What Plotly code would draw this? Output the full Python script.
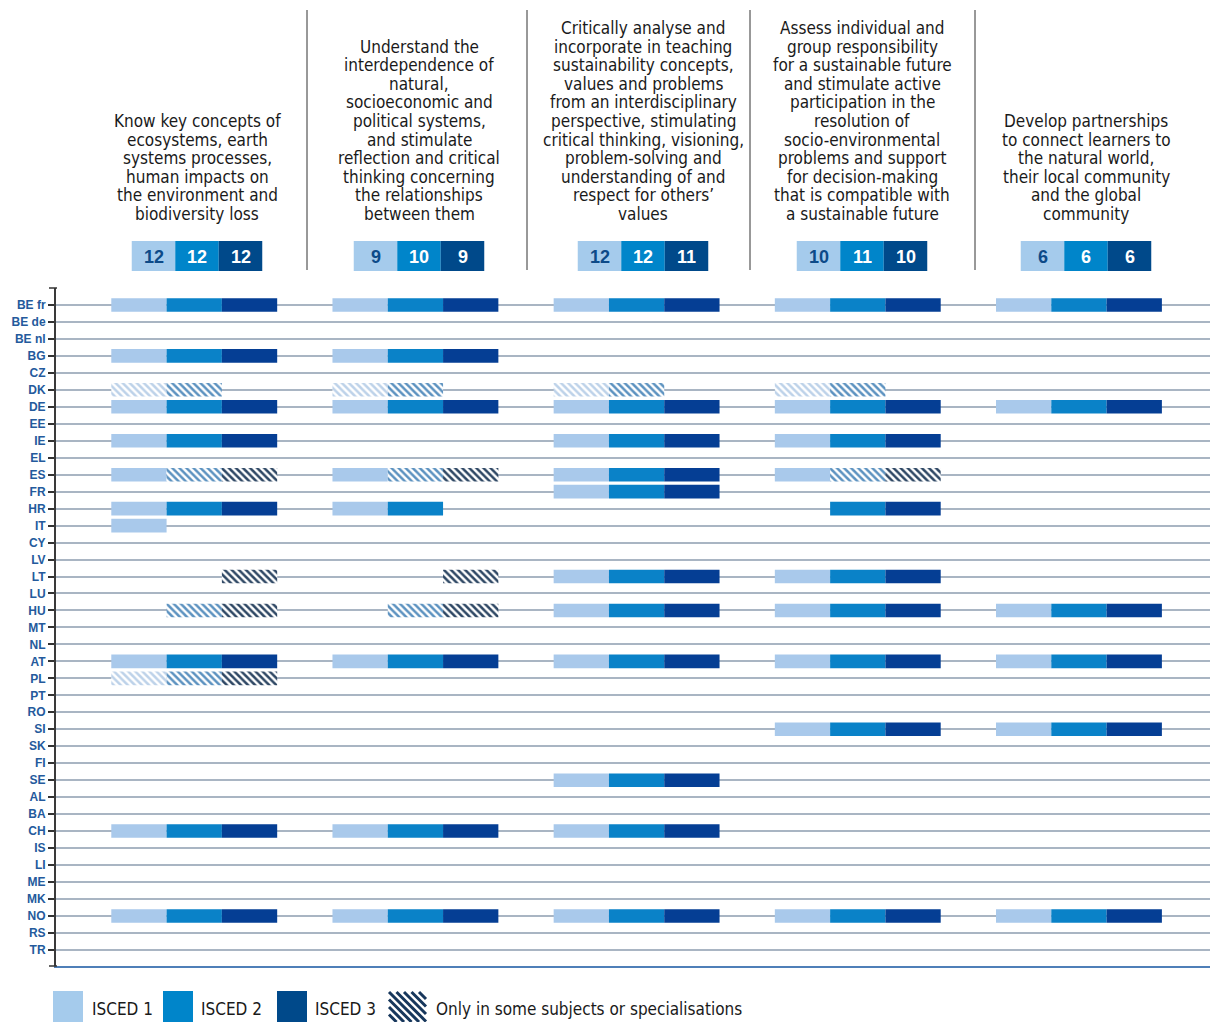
import plotly.graph_objects as go

# ---------------- data ----------------
countries = ["BE fr", "BE de", "BE nl", "BG", "CZ", "DK", "DE", "EE", "IE", "EL", "ES", "FR",
             "HR", "IT", "CY", "LV", "LT", "LU", "HU", "MT", "NL", "AT", "PL", "PT", "RO",
             "SI", "SK", "FI", "SE", "AL", "BA", "CH", "IS", "LI", "ME", "MK", "NO", "RS", "TR"]

competence_titles = [
    ["Know key concepts of", "ecosystems, earth", "systems processes,", "human impacts on",
     "the environment and", "biodiversity loss"],
    ["Understand the", "interdependence of", "natural,", "socioeconomic and", "political systems,",
     "and stimulate", "reflection and critical", "thinking concerning", "the relationships",
     "between them"],
    ["Critically analyse and", "incorporate in teaching", "sustainability concepts,",
     "values and problems", "from an interdisciplinary", "perspective, stimulating",
     "critical thinking, visioning,", "problem-solving and", "understanding of and",
     "respect for others\u2019", "values"],
    ["Assess individual and", "group responsibility", "for a sustainable future",
     "and stimulate active", "participation in the", "resolution of", "socio-environmental",
     "problems and support", "for decision-making", "that is compatible with",
     "a sustainable future"],
    ["Develop partnerships", "to connect learners to", "the natural world,",
     "their local community", "and the global", "community"],
]

# code per country: one char per ISCED level 1/2/3 -> S = all, H = only in some subjects, - = none
comp1 = {"BE fr": "SSS", "BG": "SSS", "DK": "HH-", "DE": "SSS", "IE": "SSS", "ES": "SHH",
         "HR": "SSS", "IT": "S--", "LT": "--H", "HU": "-HH", "AT": "SSS", "PL": "HHH",
         "CH": "SSS", "NO": "SSS"}
comp2 = {"BE fr": "SSS", "BG": "SSS", "DK": "HH-", "DE": "SSS", "ES": "SHH", "HR": "SS-",
         "LT": "--H", "HU": "-HH", "AT": "SSS", "CH": "SSS", "NO": "SSS"}
comp3 = {"BE fr": "SSS", "DK": "HH-", "DE": "SSS", "IE": "SSS", "ES": "SSS", "FR": "SSS",
         "LT": "SSS", "HU": "SSS", "AT": "SSS", "SE": "SSS", "CH": "SSS", "NO": "SSS"}
comp4 = {"BE fr": "SSS", "DK": "HH-", "DE": "SSS", "IE": "SSS", "ES": "SHH", "HR": "-SS",
         "LT": "SSS", "HU": "SSS", "AT": "SSS", "SI": "SSS", "NO": "SSS"}
comp5 = {"BE fr": "SSS", "DE": "SSS", "HU": "SSS", "AT": "SSS", "SI": "SSS", "NO": "SSS"}
competences = [comp1, comp2, comp3, comp4, comp5]

level_names = ["ISCED 1", "ISCED 2", "ISCED 3"]
legend_hatch_label = "Only in some subjects or specialisations"

# ---------------- styles ----------------
W, H = 1210, 1022
solid_colors = ["#A9C9EB", "#0A82C8", "#053E94"]
hatch_colors = ["#BDD2E9", "#5C92C0", "#2E4764"]
legend_colors = ["#A5CBEC", "#0085CA", "#00498A"]
box_text_colors = ["#0D4A88", "#FFFFFF", "#FFFFFF"]
TITLE_FONT = "DejaVu Sans Condensed, Liberation Sans Narrow, Arial Narrow, sans-serif"


def px(x):
    return x / W


def py(y):
    return 1 - y / H


fig = go.Figure()

# ---------------- bars ----------------
row_index = {c: i for i, c in enumerate(countries)}
for lvl in range(3):
    for status in ("S", "H"):
        ys, bases = [], []
        for g, comp in enumerate(competences):
            for c, code in comp.items():
                if code[lvl] == status:
                    ys.append(row_index[c])
                    bases.append(1 + 4 * g + lvl)
        if not ys:
            continue
        if status == "S":
            marker = dict(color=solid_colors[lvl], line=dict(width=0))
        else:
            marker = dict(color=hatch_colors[lvl], line=dict(width=0),
                          pattern=dict(shape="\\", size=5, solidity=0.5,
                                       bgcolor="#FFFFFF", fgcolor=hatch_colors[lvl],
                                       fillmode="replace"))
        fig.add_trace(go.Bar(orientation="h", y=ys, x=[1] * len(ys), base=bases,
                             width=0.8, marker=marker, showlegend=False,
                             hoverinfo="skip"))

# ---------------- header ----------------
shapes = []
annotations = []
header_centers = [197, 419, 643, 862, 1086]
separators = [307, 527, 750, 975]
for sx in separators:
    shapes.append(dict(type="line", xref="paper", yref="paper", x0=px(sx), x1=px(sx),
                       y0=py(10), y1=py(270), line=dict(color="#333333", width=1)))

LINE_GAP = 18.6
LAST_LINE_Y = 214
for g, lines in enumerate(competence_titles):
    n = len(lines)
    for i, t in enumerate(lines):
        yline = LAST_LINE_Y - (n - 1 - i) * LINE_GAP
        annotations.append(dict(text=t, xref="paper", yref="paper", x=px(header_centers[g]),
                                y=py(yline), xanchor="center", yanchor="middle",
                                showarrow=False,
                                font=dict(family=TITLE_FONT, size=17, color="#1A1A1A")))
    # count boxes
    comp = competences[g]
    counts = [sum(1 for code in comp.values() if code[l] != "-") for l in range(3)]
    bw = 43.5
    left = header_centers[g] - 1.5 * bw
    for l in range(3):
        x0 = left + l * bw
        shapes.append(dict(type="rect", xref="paper", yref="paper", x0=px(x0), x1=px(x0 + bw),
                           y0=py(271), y1=py(241), fillcolor=legend_colors[l],
                           line=dict(width=0), layer="above"))
        annotations.append(dict(text="<b>%d</b>" % counts[l], xref="paper", yref="paper",
                                x=px(x0 + bw / 2), y=py(256.5), xanchor="center",
                                yanchor="middle", showarrow=False,
                                font=dict(family="Liberation Sans, Arial, sans-serif", size=18,
                                          color=box_text_colors[l])))

# small end ticks on the left axis
for yy in (288, 966):
    shapes.append(dict(type="line", xref="paper", yref="paper", x0=px(49), x1=px(57),
                       y0=py(yy), y1=py(yy), line=dict(color="#333333", width=1.5)))

# ---------------- legend ----------------
LEG_Y0, LEG_Y1 = 991, 1022
sw_x = [53, 163, 277]
txt_x = [90, 199, 313]
for l in range(3):
    shapes.append(dict(type="rect", xref="paper", yref="paper", x0=px(sw_x[l]),
                       x1=px(sw_x[l] + 30), y0=py(LEG_Y1), y1=py(LEG_Y0),
                       fillcolor=legend_colors[l], line=dict(width=0)))
    annotations.append(dict(text=level_names[l], xref="paper", yref="paper", x=px(txt_x[l]),
                            y=py(1009), xanchor="left", yanchor="middle", showarrow=False,
                            font=dict(family=TITLE_FONT, size=17, color="#1A1A1A")))
# hatched swatch drawn as clipped diagonal strokes
hx0, hx1, hy0, hy1 = 389, 426, 992, 1022
hh = hy1 - hy0
c = hx0 - hh
while c < hx1:
    t0 = max(0, hx0 - c)
    t1 = min(hh, hx1 - c)
    if t1 > t0:
        shapes.append(dict(type="line", xref="paper", yref="paper",
                           x0=px(c + t0), y0=py(hy0 + t0), x1=px(c + t1), y1=py(hy0 + t1),
                           line=dict(color="#17375C", width=3)))
    c += 7.5
annotations.append(dict(text=legend_hatch_label, xref="paper", yref="paper", x=px(434),
                        y=py(1009), xanchor="left", yanchor="middle", showarrow=False,
                        font=dict(family=TITLE_FONT, size=17, color="#1A1A1A")))

# ---------------- layout ----------------
fig.update_layout(
    width=W, height=H,
    margin=dict(l=0, r=0, t=0, b=0, pad=0),
    paper_bgcolor="white", plot_bgcolor="white",
    barmode="overlay",
    showlegend=False,
    xaxis=dict(domain=[px(56), 1], range=[0, 20.87], showgrid=False, zeroline=False,
               showticklabels=False, ticks="", showline=True, linecolor="#4F7FB8",
               linewidth=2, fixedrange=True),
    yaxis=dict(domain=[py(966), py(288)], range=[38.95, -1.0], tickmode="array",
               tickvals=list(range(len(countries))), ticktext=countries,
               showgrid=True, gridcolor="#A9B5C3", gridwidth=1.6, zeroline=False,
               showline=True, linecolor="#3A3A3A", linewidth=2,
               ticks="outside", ticklen=6, tickwidth=1.5, tickcolor="#333333",
               tickfont=dict(family="Liberation Sans, Arial, sans-serif", size=12,
                             color="#245A9C", weight="bold"),
               fixedrange=True),
    shapes=shapes,
    annotations=annotations,
)

fig.write_html("out.html", config={"displayModeBar": False},
               post_script="document.body.style.margin='0';document.body.style.overflow='hidden';")
